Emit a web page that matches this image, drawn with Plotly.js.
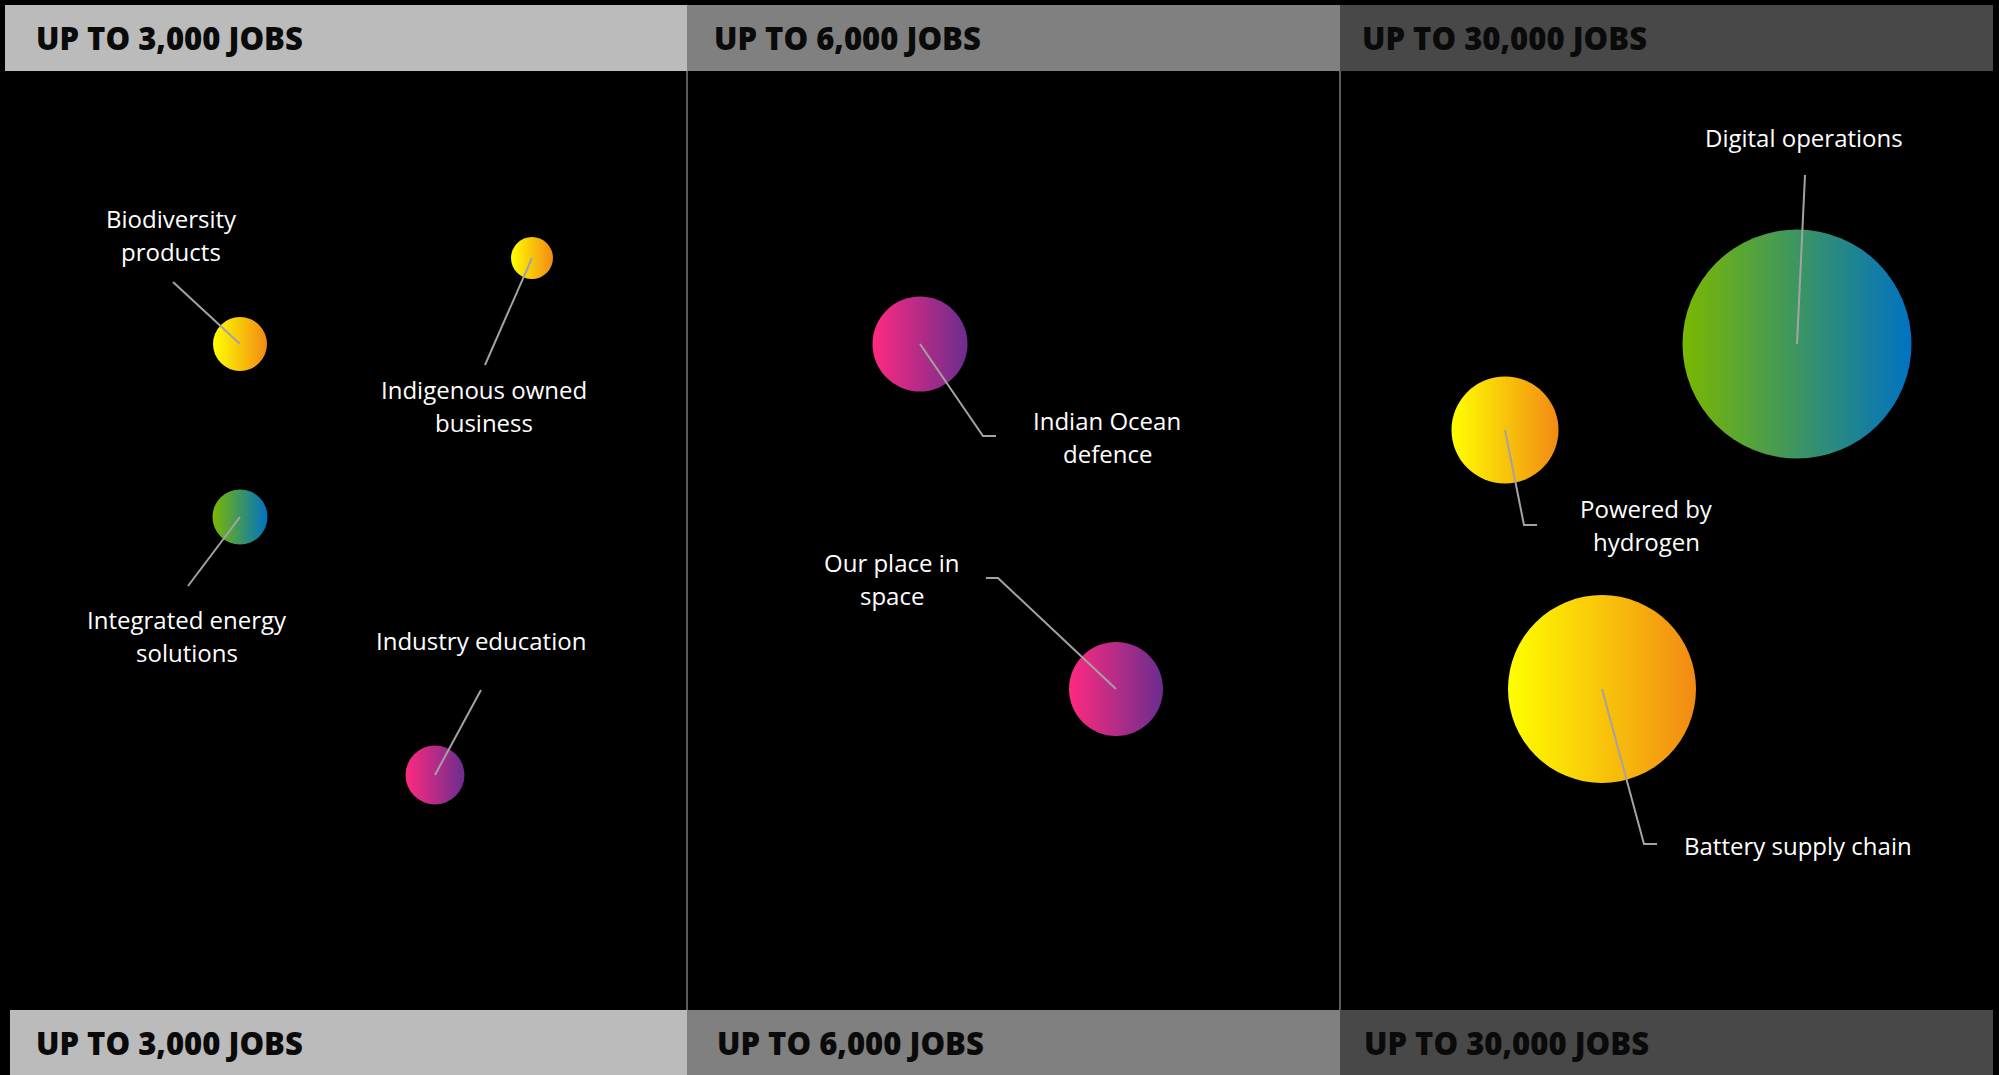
<!DOCTYPE html>
<html>
<head>
<meta charset="utf-8">
<script src="https://cdn.plot.ly/plotly-3.0.1.min.js"></script>
<style>
  html, body { margin: 0; padding: 0; background: #000; }
  #chart { width: 1999px; height: 1075px; }
</style>
</head>
<body>
<div id="chart"></div>
<script>
// ---- Data ----
const categories = ['Biodiversity products', 'Indigenous owned business', 'Integrated energy solutions',
  'Industry education', 'Indian Ocean defence', 'Our place in space',
  'Digital operations', 'Powered by hydrogen', 'Battery supply chain'];
const labelText = ['Biodiversity<br>products', 'Indigenous owned<br>business', 'Integrated energy<br>solutions',
  'Industry education', 'Indian Ocean<br>defence', 'Our place in<br>space',
  'Digital operations', 'Powered by<br>hydrogen', 'Battery supply chain'];
const tierLabels = ['UP TO 3,000 JOBS', 'UP TO 6,000 JOBS', 'UP TO 30,000 JOBS'];
const tierOf = [0, 0, 0, 0, 1, 1, 2, 2, 2];
const bubbleX = [240, 532, 240, 435, 920, 1116, 1797, 1505, 1602];
const bubbleY = [344, 258, 517, 775, 344, 689, 344, 430, 689];
const bubbleSize = [54, 42, 55, 59, 95, 94, 229, 107, 188];
const colourGroup = ['yellow', 'yellow', 'green', 'pink', 'pink', 'pink', 'green', 'yellow', 'yellow'];
const labelX = [171, 484, 187, 481, 1107, 892, 1804, 1646, 1798];
const labelY = [235, 406, 636, 640, 437, 579, 137, 525, 845];
const leaderEndX = [173, 485, 188, 481, 996, 986, 1805, 1537, 1657];
const leaderEndY = [282, 365, 586, 690, 436, 578, 175, 525, 844];
const leaderElbowX = [null, null, null, null, 983, 998, null, 1524, 1644];
const leaderElbowY = [null, null, null, null, 436, 578, null, 525, 844];

// ---- Styles ----
const W = 1999, H = 1075;
const palette = {
  yellow: ['#ffff00', '#f28a14'],
  green: ['#7ab800', '#0072c3'],
  pink: ['#ff2a7f', '#6a2d8f']
};
const tierFill = ['#bbbbbb', '#808080', '#484848'];
const tierEdges = [5, 687, 1340, 1993];
const bottomLeft = 10;
const topBar = [5, 71];
const bottomBar = [1010, 1075];
const headTopX = [34, 712, 1360];
const headBottomX = [34, 715, 1362];
const lineGap = 32.5;

// ---- Traces ----
const bubbles = {
  type: 'scatter', mode: 'markers',
  x: bubbleX, y: bubbleY, text: categories, hoverinfo: 'text',
  cliponaxis: false,
  marker: {
    size: bubbleSize, sizemode: 'diameter', sizeref: 1,
    color: colourGroup.map(g => palette[g][0]),
    gradient: { type: 'horizontal', color: colourGroup.map(g => palette[g][1]) },
    line: { width: 0 },
    opacity: 1
  },
  showlegend: false
};

const lx = [], ly = [];
categories.forEach((c, i) => {
  lx.push(leaderEndX[i]); ly.push(leaderEndY[i]);
  if (leaderElbowX[i] !== null) { lx.push(leaderElbowX[i]); ly.push(leaderElbowY[i]); }
  lx.push(bubbleX[i]); ly.push(bubbleY[i]);
  lx.push(null); ly.push(null);
});
const leaders = {
  type: 'scatter', mode: 'lines', x: lx, y: ly, hoverinfo: 'skip',
  cliponaxis: false, connectgaps: false,
  line: { color: '#a3a3a3', width: 2 }, showlegend: false
};

// ---- Shapes ----
const shapes = [];
tierLabels.forEach((t, k) => {
  shapes.push({ type: 'rect', xref: 'x', yref: 'y', x0: tierEdges[k], x1: tierEdges[k + 1],
    y0: topBar[0], y1: topBar[1], fillcolor: tierFill[k], line: { width: 0 }, layer: 'below' });
  shapes.push({ type: 'rect', xref: 'x', yref: 'y', x0: k === 0 ? bottomLeft : tierEdges[k], x1: tierEdges[k + 1],
    y0: bottomBar[0], y1: bottomBar[1], fillcolor: tierFill[k], line: { width: 0 }, layer: 'below' });
});
[1, 2].forEach(k => {
  shapes.push({ type: 'line', xref: 'x', yref: 'y', x0: tierEdges[k], x1: tierEdges[k],
    y0: topBar[1], y1: bottomBar[0], line: { color: '#7a7a7a', width: 1.5 }, layer: 'below' });
});

// ---- Annotations ----
const annotations = [];
const headFont = { family: 'Open Sans, sans-serif', size: 31, color: '#0a0a0a', weight: 800 };
tierLabels.forEach((t, k) => {
  annotations.push({ x: headTopX[k], y: (topBar[0] + topBar[1]) / 2, xref: 'x', yref: 'y', text: t,
    showarrow: false, xanchor: 'left', yanchor: 'middle', font: headFont });
  annotations.push({ x: headBottomX[k], y: (bottomBar[0] + bottomBar[1]) / 2, xref: 'x', yref: 'y', text: t,
    showarrow: false, xanchor: 'left', yanchor: 'middle', font: headFont });
});
labelText.forEach((t, i) => {
  const lines = t.split('<br>');
  lines.forEach((ln, j) => {
    annotations.push({ x: labelX[i], y: labelY[i] + (j - (lines.length - 1) / 2) * lineGap,
      xref: 'x', yref: 'y', text: ln, showarrow: false,
      xanchor: 'center', yanchor: 'middle', align: 'center',
      font: { family: 'Open Sans, sans-serif', size: 24, color: '#ffffff' } });
  });
});

const layout = {
  width: W, height: H,
  margin: { l: 0, r: 0, t: 0, b: 0, pad: 0 },
  paper_bgcolor: '#000000', plot_bgcolor: '#000000',
  xaxis: { range: [0, W], visible: false, fixedrange: true },
  yaxis: { range: [H, 0], visible: false, fixedrange: true },
  shapes: shapes, annotations: annotations,
  hovermode: 'closest', showlegend: false
};

Plotly.newPlot('chart', [bubbles, leaders], layout, { displayModeBar: false, staticPlot: true });
</script>
</body>
</html>
